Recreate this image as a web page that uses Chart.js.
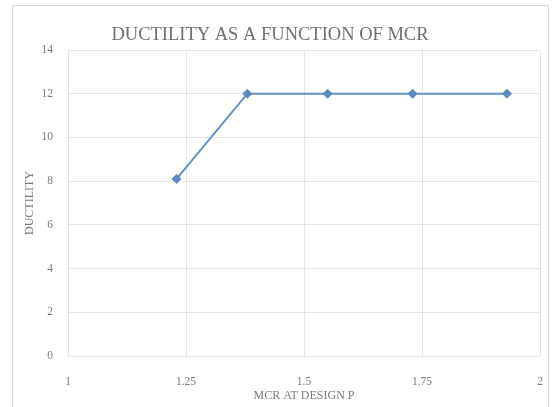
<!DOCTYPE html>
<html>
<head>
<meta charset="utf-8">
<script src="https://cdn.jsdelivr.net/npm/chart.js@4"></script>
<style>
html,body{margin:0;padding:0;background:#fff;}
#wrap{width:554px;height:407px;position:relative;}
</style>
</head>
<body>
<div id="wrap"><canvas id="c" width="554" height="407"></canvas></div>
<script>
// Data
const mcrValues = [1.23, 1.38, 1.55, 1.73, 1.93];
const ductilityValues = [8.1, 12, 12, 12, 12];
const xTickLabels = ["1", "1.25", "1.5", "1.75", "2"];
const yTickLabels = ["0", "2", "4", "6", "8", "10", "12", "14"];
const chartTitle = "DUCTILITY AS A FUNCTION OF MCR";
const xAxisTitle = "MCR AT DESIGN P";
const yAxisTitle = "DUCTILITY";

const points = mcrValues.map((x, i) => ({x: x, y: ductilityValues[i]}));
const serif = "'Liberation Serif', 'DejaVu Serif', serif";
const textGray = '#7a7a7a';
const gridGray = '#e4e4e4';

const framePlugin = {
  id: 'frame',
  beforeDraw(chart) {
    const ctx = chart.ctx;
    ctx.save();
    ctx.fillStyle = '#fff';
    ctx.fillRect(0, 0, chart.width, chart.height);
    ctx.strokeStyle = '#d9d9d9';
    ctx.lineWidth = 1;
    ctx.strokeRect(12.5, 5.5, 536, 402);
    ctx.restore();
  }
};

new Chart(document.getElementById('c'), {
  type: 'scatter',
  data: {
    datasets: [{
      data: points,
      showLine: true,
      borderColor: '#6590c4',
      backgroundColor: '#5f8abf',
      borderWidth: 2,
      pointStyle: 'rectRot',
      pointRadius: 4.5,
      pointBorderWidth: 1,
      pointBorderColor: '#5f8abf',
      tension: 0
    }]
  },
  options: {
    responsive: false,
    animation: false,
    layout: {padding: {left: 0, right: 14, top: 0, bottom: 0}},
    plugins: {
      legend: {display: false},
      tooltip: {enabled: false},
      title: {
        display: true,
        text: chartTitle,
        color: '#6f6f6f',
        font: {family: serif, size: 18.5, weight: 'normal'},
        padding: {top: 24, bottom: 3.8}
      }
    },
    scales: {
      x: {
        type: 'linear',
        min: 1, max: 2,
        afterBuildTicks(scale) {
          scale.ticks = xTickLabels.map(v => ({value: parseFloat(v)}));
        },
        afterFit(scale) {
          scale.height = 51;
          scale.paddingLeft = 0;
          scale.paddingRight = 0;
        },
        ticks: {
          color: textGray,
          font: {family: serif, size: 11.5},
          padding: 19,
          maxRotation: 0,
          callback: (v, i) => xTickLabels[i]
        },
        grid: {color: gridGray, drawTicks: false},
        border: {display: false},
        title: {
          display: true,
          text: xAxisTitle,
          color: textGray,
          font: {family: serif, size: 12},
          padding: {top: 0, bottom: 4}
        }
      },
      y: {
        type: 'linear',
        min: 0, max: 14,
        afterBuildTicks(scale) {
          scale.ticks = yTickLabels.map(v => ({value: parseFloat(v)}));
        },
        afterFit(scale) {
          scale.width = 68;
          scale.paddingTop = 0;
          scale.paddingBottom = 0;
        },
        ticks: {
          color: textGray,
          font: {family: serif, size: 11.5},
          padding: 15,
          callback: (v, i) => yTickLabels[i]
        },
        grid: {color: gridGray, drawTicks: false},
        border: {display: false},
        title: {
          display: true,
          text: yAxisTitle,
          color: textGray,
          font: {family: serif, size: 12},
          padding: {top: 23, bottom: 0}
        }
      }
    }
  },
  plugins: [framePlugin]
});
</script>
</body>
</html>
